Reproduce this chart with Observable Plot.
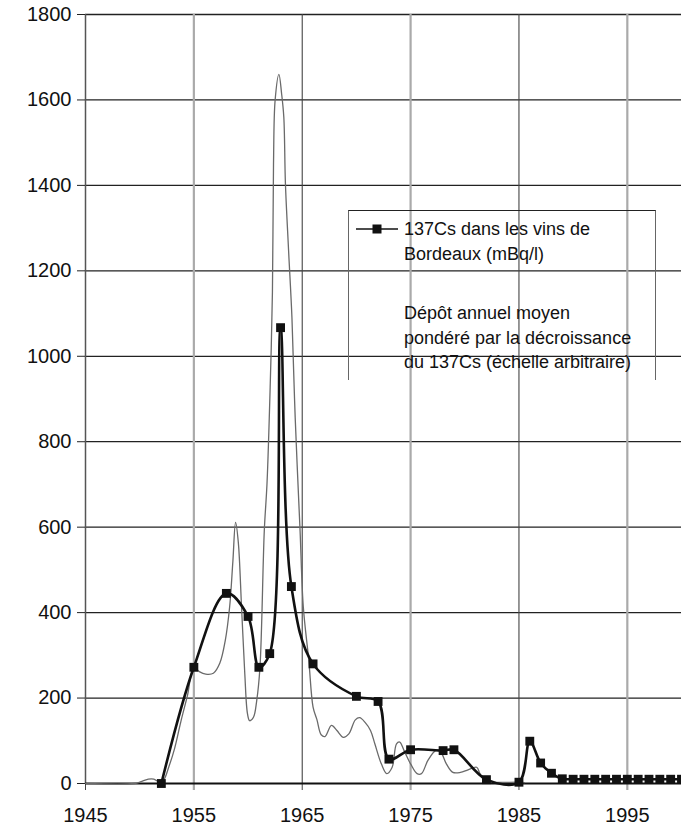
<!DOCTYPE html>
<html>
<head>
<meta charset="utf-8">
<script src="https://cdn.jsdelivr.net/npm/d3@7"></script>
<script src="https://cdn.jsdelivr.net/npm/@observablehq/plot@0.6"></script>
<style>
  body { margin: 0; background: #fff; }
  #wrap { position: relative; width: 681px; height: 826px; font-family: "Liberation Sans", Arial, sans-serif; color: #111; }
  #legend { position: absolute; left: 348px; top: 210px; width: 308px; height: 170px; box-sizing: border-box;
            border-top: 1.5px solid #222; border-left: 1px solid #666; border-right: 1px solid #666; }
  #legend .t { position: absolute; left: 55px; font-size: 18px; line-height: 24px; white-space: nowrap; }
  #legend svg { position: absolute; left: 7px; top: 11px; }
</style>
</head>
<body>
<div id="wrap">
  <div id="chart"></div>
  <div id="legend"></div>
</div>
<script>
// Series 1: 137Cs in Bordeaux wines (mBq/l) — markers
const winesYears = [1952, 1955, 1958, 1960, 1961, 1962, 1963, 1964, 1966, 1970, 1972, 1973, 1975, 1978, 1979, 1982, 1985, 1986, 1987, 1988, 1989, 1990, 1991, 1992, 1993, 1994, 1995, 1996, 1997, 1998, 1999, 2000];
const winesValues = [0, 272, 445, 391, 272, 304, 1067, 461, 280, 204, 192, 57, 79, 77, 79, 9, 3, 99, 48, 24, 11, 10, 10, 10, 10, 10, 10, 10, 10, 10, 10, 10];

// Series 2: mean annual deposition weighted by 137Cs decay (arbitrary scale) — thin line
const depositYears = [1945, 1949.5, 1950.2, 1950.8, 1951.3, 1951.8, 1952.2, 1952.7, 1953.2, 1953.8, 1954.4, 1955.0, 1955.5, 1956.1, 1956.8, 1957.4, 1957.9, 1958.3, 1958.6, 1958.85, 1959.1, 1959.4, 1959.7, 1959.95, 1960.15, 1960.5, 1960.8, 1961.1, 1961.5, 1961.75, 1962.05, 1962.25, 1962.35, 1962.5, 1962.85, 1963.1, 1963.3, 1963.45, 1963.74, 1964.05, 1964.35, 1964.8, 1965.1, 1965.6, 1966.0, 1966.35, 1966.75, 1967.1, 1967.7, 1968.2, 1968.8, 1969.3, 1969.9, 1970.3, 1970.8, 1971.3, 1971.7, 1972.3, 1972.8, 1973.3, 1973.7, 1974.0, 1974.4, 1975.0, 1975.6, 1976.0, 1976.6, 1977.3, 1977.7, 1978.3, 1978.9, 1979.6, 1980.3, 1981.1, 1981.4, 1981.9, 1982.5, 1985.0, 1985.5];
const depositValues = [0, 0, 5, 10, 10, 4, 8, 40, 80, 145, 205, 272, 262, 256, 258, 282, 335, 413, 520, 611, 565, 413, 257, 163, 147, 155, 194, 272, 592, 702, 936, 1150, 1450, 1600, 1660, 1614, 1560, 1404, 1248, 1091, 857, 592, 413, 290, 179, 150, 114, 110, 136, 124, 108, 116, 149, 154, 143, 124, 93, 46, 23, 38, 93, 97, 77, 46, 23, 23, 54, 77, 77, 46, 26, 26, 32, 38, 23, 7, 3, 3, 2];

// Axis ticks
const yTickValues = [0, 200, 400, 600, 800, 1000, 1200, 1400, 1600, 1800];
const yGridValues = [200, 400, 600, 800, 1000, 1200, 1400, 1600, 1800];
const xDarkTicks = [1945, 1965, 1985];
const xGrayTicks = [1955, 1975, 1995];
const xGridDark = [1965, 1985];

// Legend texts
const legendWines = ["137Cs dans les vins de", "Bordeaux (mBq/l)"];
const legendDeposit = ["Dépôt annuel moyen", "pondéré par la décroissance", "du 137Cs (échelle arbitraire)"];

const wines = winesYears.map((y, i) => ({year: y, value: winesValues[i]}));
const deposit = depositYears.map((y, i) => ({year: y, value: depositValues[i]}));

const chart = Plot.plot({
  width: 681,
  height: 826,
  marginLeft: 85,
  marginRight: 0,
  marginTop: 14,
  marginBottom: 43,
  x: {domain: [1945, 2000]},
  y: {domain: [0, 1800]},
  style: {fontFamily: "'Liberation Sans', Arial, sans-serif", fontSize: "20px", background: "#fff", overflow: "hidden", color: "#111"},
  marks: [
    Plot.ruleY(yGridValues, {stroke: "#222", strokeWidth: 1.3}),
    Plot.ruleX(xGrayTicks, {stroke: "#aaa", strokeWidth: 2.2}),
    Plot.ruleX(xGridDark, {stroke: "#444", strokeWidth: 1.1}),
    Plot.ruleX([1945], {stroke: "#555", strokeWidth: 1.5}),
    Plot.axisY({ticks: yTickValues, tickSize: 8, tickPadding: 6, tickFormat: "d", stroke: "#222", fill: "#111", fontSize: 20, label: null}),
    Plot.axisX({ticks: xDarkTicks, tickSize: 7, tickPadding: 17, tickFormat: "d", stroke: "#444", fill: "#111", fontSize: 20, label: null}),
    Plot.axisX({ticks: xGrayTicks, tickSize: 7, tickPadding: 17, tickFormat: "d", stroke: "#aaa", strokeWidth: 2.2, fill: "#111", fontSize: 20, label: null}),
    Plot.ruleY([0], {stroke: "#111", strokeWidth: 1.8}),
    Plot.line(deposit, {x: "year", y: "value", stroke: "#6a6a6a", strokeWidth: 1.3, curve: "catmull-rom"}),
    Plot.line(wines, {x: "year", y: "value", stroke: "#111", strokeWidth: 2.6, curve: "catmull-rom"}),
    Plot.dot(wines, {x: "year", y: "value", symbol: "square", r: 5, fill: "#111", stroke: "none"})
  ]
});
document.getElementById("chart").appendChild(chart);

// Legend (inside plot frame, drawn as an overlay)
const legend = document.getElementById("legend");
legend.innerHTML =
  '<svg width="42" height="14"><line x1="0" y1="7" x2="42" y2="7" stroke="#111" stroke-width="1.5"/>' +
  '<rect x="16.5" y="2.5" width="9" height="9" fill="#111"/></svg>';
const tops = [6, 31, 90, 115, 139];
[...legendWines, ...legendDeposit].forEach((txt, i) => {
  const d = document.createElement("div");
  d.className = "t";
  d.style.top = tops[i] + "px";
  d.textContent = txt;
  legend.appendChild(d);
});
</script>
</body>
</html>
